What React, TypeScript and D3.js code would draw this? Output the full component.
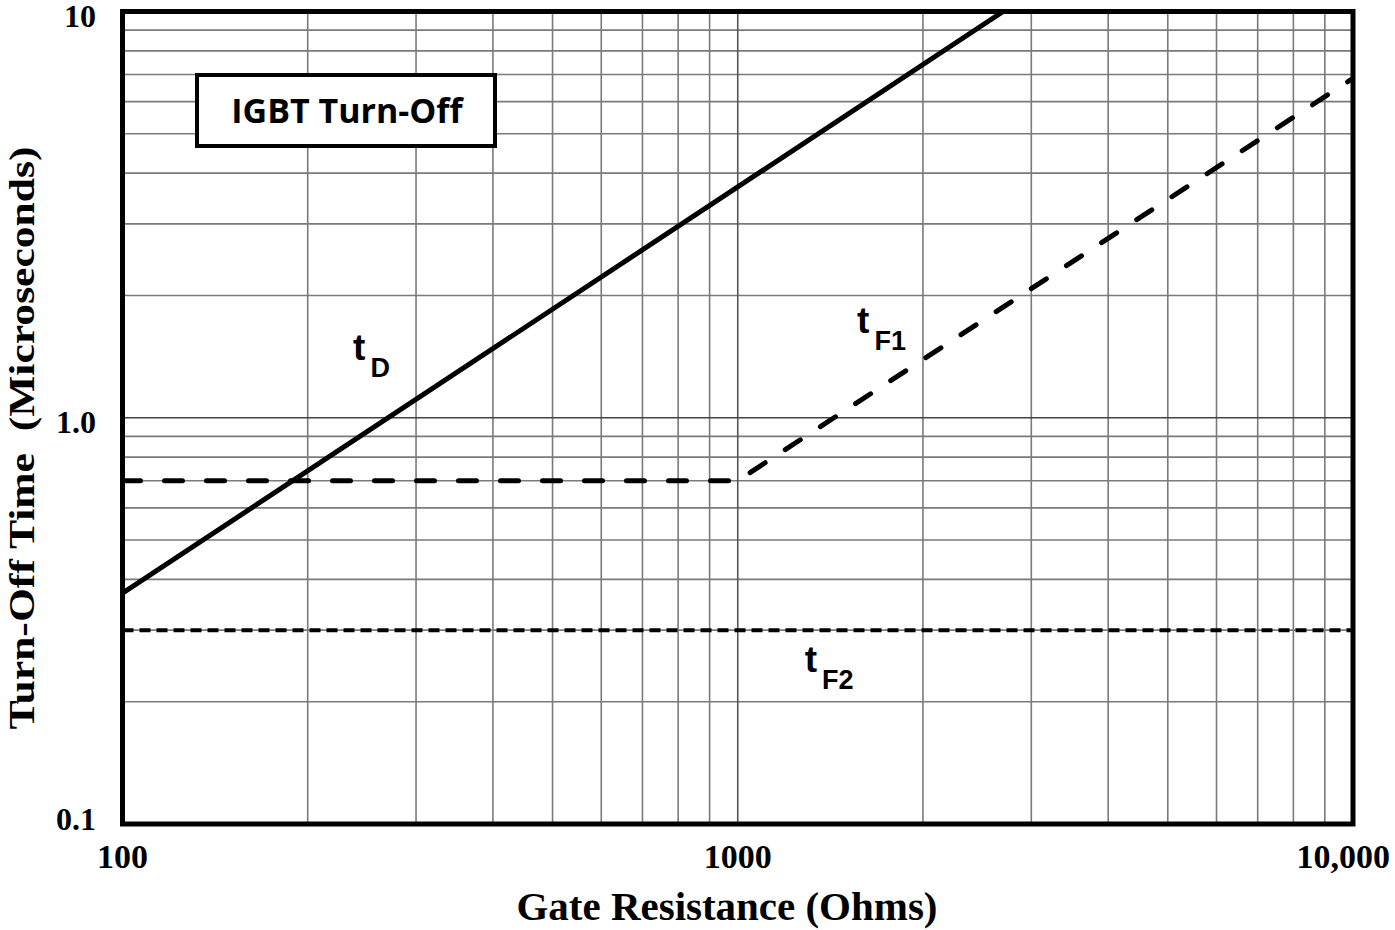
import React from "react";
import * as d3 from "d3";

const W = 1395;
const H = 930;
const M = { left: 122.5, right: 1353, top: 11.5, bottom: 824 };

// Data
const tdR = [100, 1000, 2700];
const tdT = [0.37, 3.7, 10];
const tf1R = [100, 1000, 10000];
const tf1T = [0.7, 0.7, 6.85];
const tf2R = [100, 10000];
const tf2T = [0.3, 0.3];

const xTicks = [100, 1000, 10000];
const xTickLabels = ["100", "1000", "10,000"];
const yTicks = [0.1, 1, 10];
const yTickLabels = ["0.1", "1.0", "10"];

const curveLabels = [
  { t: "t", sub: "D", r: 237, v: 1.39 },
  { t: "t", sub: "F1", r: 1563, v: 1.617 },
  { t: "t", sub: "F2", r: 1285, v: 0.2366 },
];

export default function App() {
  const x = d3.scaleLog().domain([100, 10000]).range([M.left, M.right]);
  const y = d3.scaleLog().domain([0.1, 10]).range([M.bottom, M.top]);

  const xGrid: number[] = [];
  for (const d of [100, 1000]) for (let k = 2; k <= 9; k++) xGrid.push(d * k);
  const yGrid: number[] = [];
  for (const d of [0.1, 1]) for (let k = 2; k <= 9; k++) yGrid.push(d * k);

  const line = d3
    .line<[number, number]>()
    .x((d) => x(d[0]))
    .y((d) => y(d[1]));

  const tdPath = line(tdR.map((r, i) => [r, tdT[i]] as [number, number])) || "";
  const tf1Path = line(tf1R.map((r, i) => [r, tf1T[i]] as [number, number])) || "";
  const tf2Path = line(tf2R.map((r, i) => [r, tf2T[i]] as [number, number])) || "";

  const serif = "'Liberation Serif', 'Times New Roman', serif";
  const sans = "'Liberation Sans', Arial, sans-serif";

  return (
    <svg
      width={W}
      height={H}
      style={{ position: "absolute", left: 0, top: 0, background: "#fff" }}
    >
      <defs>
        <clipPath id="plotclip">
          <rect x={M.left} y={M.top} width={M.right - M.left} height={M.bottom - M.top} />
        </clipPath>
      </defs>
      <rect x={0} y={0} width={W} height={H} fill="#fff" />
      {/* grid */}
      <g stroke="#7a7a7a" strokeWidth={1.6}>
        {xGrid.map((v) => (
          <line key={"xg" + v} x1={x(v)} x2={x(v)} y1={M.top} y2={M.bottom} />
        ))}
        {yGrid.map((v) => (
          <line key={"yg" + v} x1={M.left} x2={M.right} y1={y(v)} y2={y(v)} />
        ))}
      </g>
      <g strokeWidth={1.6}>
        <line x1={x(1000)} x2={x(1000)} y1={M.top} y2={M.bottom} stroke="#555" />
        <line x1={M.left} x2={M.right} y1={y(1)} y2={y(1)} stroke="#444" />
      </g>

      {/* series */}
      <g clipPath="url(#plotclip)" fill="none" stroke="#000">
        <path d={tdPath} strokeWidth={5} />
        <path d={tf1Path} strokeWidth={5} strokeDasharray="18,24" strokeLinecap="round" />
        <path d={tf2Path} strokeWidth={4} strokeDasharray="11,6" />
      </g>

      {/* frame */}
      <rect
        x={M.left}
        y={M.top}
        width={M.right - M.left}
        height={M.bottom - M.top}
        fill="none"
        stroke="#000"
        strokeWidth={5}
      />

      {/* legend box */}
      <rect x={197} y={75} width={298} height={71} fill="#fff" stroke="#000" strokeWidth={4} />
      <text
        x={347}
        y={123}
        textAnchor="middle"
        fontFamily="'Open Sans', sans-serif"
        fontWeight={700}
        fontSize={34}
        fill="#000"
      >
        IGBT Turn-Off
      </text>

      {/* curve labels */}
      {curveLabels.map((l) => (
        <text
          key={l.sub}
          x={x(l.r)}
          y={y(l.v)}
          fontFamily={sans}
          fontWeight={700}
          fill="#000"
          fontSize={37}
        >
          {l.t}
          <tspan fontSize={27} dx={5} dy={17}>
            {l.sub}
          </tspan>
        </text>
      ))}

      {/* y tick labels */}
      {yTicks.map((v, i) => (
        <text
          key={"yt" + v}
          x={96}
          y={Math.min(y(v) + 15.5, 830)}
          textAnchor="end"
          fontFamily={serif}
          fontWeight={700}
          fontSize={32}
          fill="#000"
        >
          {yTickLabels[i]}
        </text>
      ))}
      {/* x tick labels */}
      {xTicks.map((v, i) => {
        const last = i === xTicks.length - 1;
        return (
          <text
            key={"xt" + v}
            x={last ? x(v) + 37 : x(v)}
            y={868}
            textAnchor={last ? "end" : "middle"}
            fontFamily={serif}
            fontWeight={700}
            fontSize={34}
            fill="#000"
          >
            {xTickLabels[i]}
          </text>
        );
      })}

      {/* axis titles */}
      <text
        x={727}
        y={920}
        textAnchor="middle"
        fontFamily={serif}
        fontWeight={700}
        fontSize={40}
        textLength={421}
        lengthAdjust="spacingAndGlyphs"
        fill="#000"
      >
        Gate Resistance (Ohms)
      </text>
      <text
        transform="translate(34,438) rotate(-90)"
        textAnchor="middle"
        fontFamily={serif}
        fontWeight={700}
        fontSize={36}
        textLength={583}
        lengthAdjust="spacingAndGlyphs"
        fill="#000"
        style={{ whiteSpace: "pre" }}
      >
        {"Turn-Off Time  (Microseconds)"}
      </text>
    </svg>
  );
}
